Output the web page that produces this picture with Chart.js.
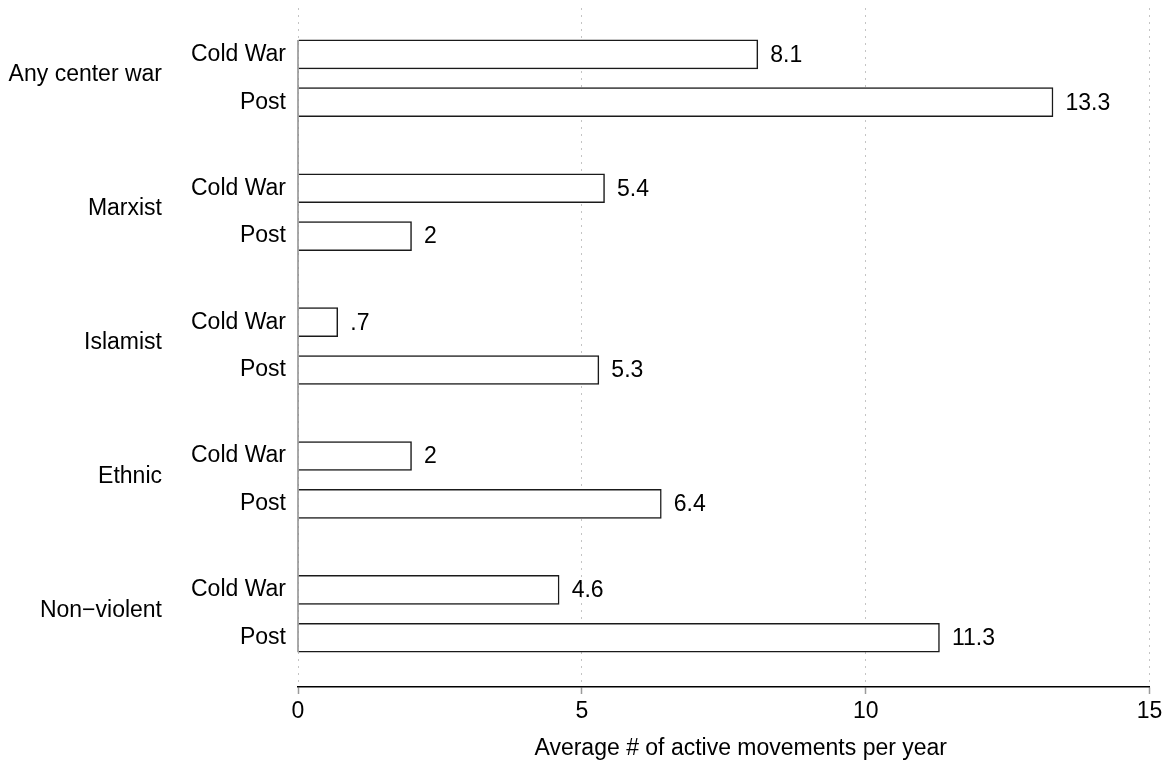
<!DOCTYPE html>
<html>
<head>
<meta charset="utf-8">
<title>Average # of active movements per year</title>
<script src="https://cdn.jsdelivr.net/npm/chart.js@4/dist/chart.umd.min.js"></script>
<style>
  html, body { margin: 0; padding: 0; background: #fff; }
  #wrap { width: 1167px; height: 763px; position: relative; }
</style>
</head>
<body>
<div id="wrap"><canvas id="chart"></canvas></div>
<script>
// Movement types and periods
const groups = ['Any center war', 'Marxist', 'Islamist', 'Ethnic', 'Non\u2212violent'];
const periods = ['Cold War', 'Post'];

// Average number of active movements per year, per group: [Cold War, Post]
const coldWar = [8.1, 5.4, 0.7, 2, 4.6];
const post = [13.3, 2, 5.3, 6.4, 11.3];

const xTicks = [0, 5, 10, 15];
const xTitle = 'Average # of active movements per year';

// Row layout on a linear y axis: one unit between the two periods,
// a wider step between groups.
const GROUP_STEP = 2.8;
const rows = [];
groups.forEach((g, gi) => {
  periods.forEach((p, pi) => {
    rows.push({
      group: g,
      period: p,
      pos: gi * GROUP_STEP + pi,
      value: pi === 0 ? coldWar[gi] : post[gi]
    });
  });
});
const rowPositions = rows.map(r => r.pos);
const rowLabels = rows.map(r => r.period);
const groupPositions = groups.map((g, gi) => gi * GROUP_STEP + 0.43);

const FONT = "'Liberation Sans', Arial, Helvetica, sans-serif";
const FS = 23;

function fmt(v) {
  let s = String(v);
  if (s.startsWith('0.')) s = s.slice(1);
  return s;
}

// Solid base line at zero spanning the bars, value labels and axis title
const decorations = {
  id: 'decorations',
  afterDatasetsDraw(chart) {
    const ctx = chart.ctx;
    const xs = chart.scales.x;
    const meta = chart.getDatasetMeta(0);
    const els = meta.data;
    const first = els[0], last = els[els.length - 1];
    const x0 = xs.getPixelForValue(0);
    ctx.save();
    ctx.strokeStyle = '#8c8c8c';
    ctx.lineWidth = 1.5;
    ctx.beginPath();
    ctx.moveTo(x0, first.y - first.height / 2);
    ctx.lineTo(x0, last.y + last.height / 2);
    ctx.stroke();

    ctx.fillStyle = '#000';
    ctx.font = FS + 'px ' + FONT;
    ctx.textAlign = 'left';
    ctx.textBaseline = 'middle';
    els.forEach((el, i) => {
      ctx.fillText(fmt(rows[i].value), el.x + 12.5, el.y + 1);
    });

    ctx.textAlign = 'center';
    ctx.fillText(xTitle, (xs.left + xs.right) / 2 + 17, 749);
    ctx.restore();
  }
};

// Category-style left axes: fixed width, no extra vertical padding for labels
function fixedLeft(width) {
  return s => {
    s.width = width;
    s.paddingTop = 0;
    s.paddingBottom = 0;
  };
}

const yCommon = {
  type: 'linear',
  position: 'left',
  reverse: true,
  offset: false,
  min: -0.97,
  max: 13.23,
  grid: { display: false, drawTicks: false, offset: false },
  border: { display: false }
};

new Chart(document.getElementById('chart'), {
  type: 'bar',
  data: {
    datasets: [{
      data: rows.map(r => ({ x: r.value, y: r.pos })),
      backgroundColor: '#ffffff',
      borderColor: '#1a1a1a',
      borderWidth: 1.5,
      borderSkipped: 'start',
      barThickness: 29
    }]
  },
  options: {
    indexAxis: 'y',
    responsive: true,
    maintainAspectRatio: false,
    animation: false,
    events: [],
    layout: { padding: { top: 8, right: 17.5, left: 0, bottom: 0 } },
    plugins: {
      legend: { display: false },
      tooltip: { enabled: false },
      title: { display: false }
    },
    scales: {
      x: {
        type: 'linear',
        position: 'bottom',
        min: 0,
        max: 15,
        afterBuildTicks: s => { s.ticks = xTicks.map(v => ({ value: v })); },
        afterFit: s => { s.height = 76; },
        ticks: {
          color: '#000',
          font: { family: FONT, size: FS },
          padding: 4,
          maxRotation: 0
        },
        grid: {
          color: '#c4c4c4',
          lineWidth: 1,
          drawTicks: true,
          tickLength: 7,
          tickColor: '#9a9a9a',
          tickWidth: 1.5,
          tickBorderDash: []
        },
        border: { display: true, color: '#000', width: 1.5, dash: [2, 5] },
        title: { display: false }
      },
      y: Object.assign({}, yCommon, {
        weight: 0,
        afterBuildTicks: s => { s.ticks = rowPositions.map(v => ({ value: v })); },
        afterFit: fixedLeft(128),
        ticks: {
          autoSkip: false,
          color: '#000',
          font: { family: FONT, size: FS },
          padding: 12,
          callback: (v, i) => rowLabels[i]
        }
      }),
      yg: Object.assign({}, yCommon, {
        weight: 1,
        afterBuildTicks: s => { s.ticks = groupPositions.map(v => ({ value: v })); },
        afterFit: fixedLeft(170),
        ticks: {
          autoSkip: false,
          color: '#000',
          font: { family: FONT, size: FS },
          padding: 8,
          callback: (v, i) => groups[i]
        }
      })
    }
  },
  plugins: [decorations]
});
</script>
</body>
</html>
